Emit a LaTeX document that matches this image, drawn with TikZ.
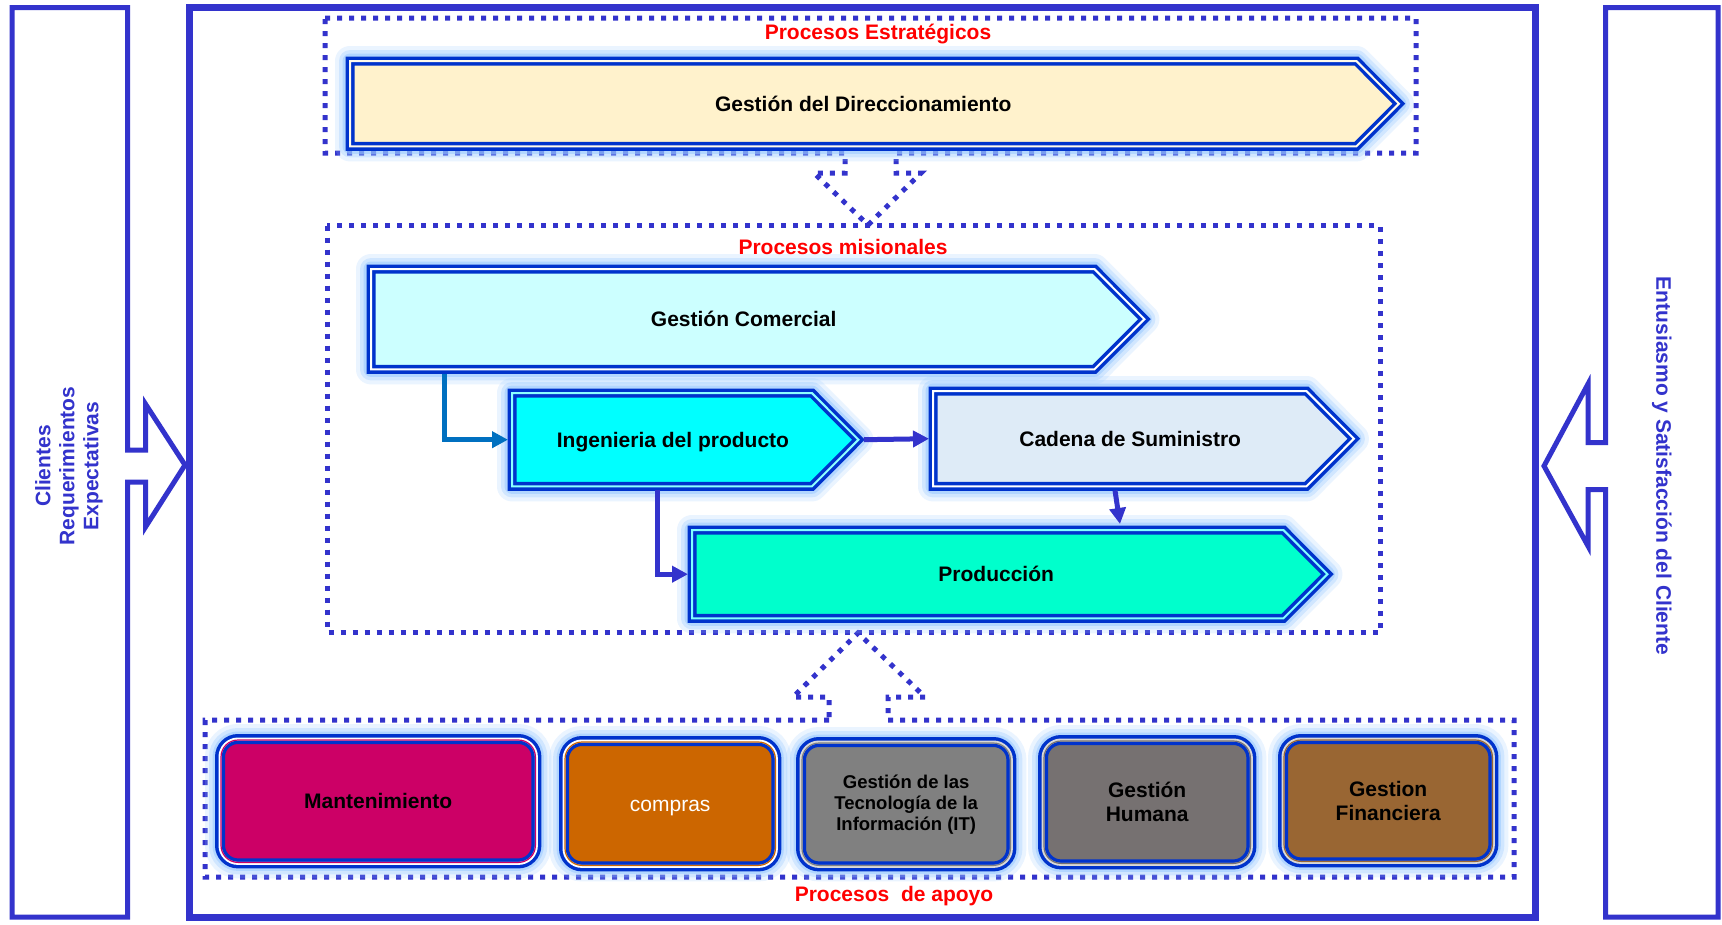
\documentclass[tikz,border=0pt]{standalone}
\usepackage{fontspec}
\setmainfont{Liberation Sans}
\usetikzlibrary{arrows.meta,calc,backgrounds}
\definecolor{frameblue}{RGB}{51,51,204}
\definecolor{shapeblue}{RGB}{0,51,204}
\definecolor{glowblue}{RGB}{150,200,255}
\definecolor{connblue}{RGB}{0,112,192}
\definecolor{cDir}{RGB}{255,242,204}
\definecolor{cCom}{RGB}{204,255,255}
\definecolor{cIng}{RGB}{0,255,255}
\definecolor{cCad}{RGB}{222,235,247}
\definecolor{cProd}{RGB}{0,255,204}
\definecolor{cMant}{RGB}{204,0,102}
\definecolor{cComp}{RGB}{204,102,0}
\definecolor{cTI}{RGB}{128,128,128}
\definecolor{cHum}{RGB}{118,113,113}
\definecolor{cFin}{RGB}{153,102,51}
\definecolor{redlbl}{RGB}{255,0,0}
\tikzset{
  frameline/.style={draw=frameblue, line width=5pt, miter limit=10},
  dotbox/.style={draw=frameblue, line width=5pt, dash pattern=on 5pt off 7pt},
  proctext/.style={font=\fontsize{21}{24}\selectfont\bfseries, text=black, inner sep=0pt, align=center, anchor=north west},
  oneline/.style={text height=15.2pt, text depth=0pt},
  redlabel/.style={font=\fontsize{21}{24}\selectfont\bfseries, text=redlbl, inner sep=0pt},
  sidetext/.style={font=\fontsize{21}{24}\selectfont\bfseries, text=frameblue, inner sep=0pt, align=center},
  conn/.style={draw=frameblue, line width=5pt, -{Triangle[length=16pt,width=16pt]}}
}
\newcommand\homeplate[4]{%
  \foreach \w/\o in {30/0.2,22/0.3,15/0.5}
    \draw[glowblue, opacity=\o, line width=\w pt, line join=round]
      (#1.north west) -- (#1.north east) -- ($(#1.east)+(#2,0)$) -- (#1.south east) -- (#1.south west) -- cycle;
  \filldraw[fill=#3, draw=shapeblue, line width=3.5pt, double=#4, double distance=2pt]
      (#1.north west) -- (#1.north east) -- ($(#1.east)+(#2,0)$) -- (#1.south east) -- (#1.south west) -- cycle;
}
\newcommand\roundbox[3]{%
  \foreach \w/\o in {30/0.2,22/0.3,15/0.5}
    \draw[glowblue, opacity=\o, line width=\w pt, rounded corners=18pt]
      (#1.north west) rectangle (#1.south east);
  \filldraw[fill=#2, draw=shapeblue, line width=3.5pt, double=#3, double distance=3pt, rounded corners=18pt]
      (#1.north west) rectangle (#1.south east);
  \draw[#2, line width=1.2pt, rounded corners=17pt]
      ($(#1.north west)+(1,1)$) rectangle ($(#1.south east)+(-1,-1)$);
}
\begin{document}
\begin{tikzpicture}[x=1pt,y=-1pt]
\useasboundingbox (0,0) rectangle (1722,924);

% ---- process nodes (text + geometry of the rectangular part)
\node[proctext, oneline, minimum width=1006pt, minimum height=85pt] (gdd) at (350,61) {\hspace*{20pt}Gestión del Direccionamiento};
\node[proctext, oneline, minimum width=723pt, minimum height=100pt] (gc) at (371,269) {\hspace*{22pt}Gestión Comercial};
\node[proctext, oneline, minimum width=299.5pt, minimum height=93pt] (ing) at (512,393) {\hspace*{22pt}Ingenieria del producto};
\node[proctext, oneline, minimum width=373pt, minimum height=95pt] (cad) at (933,391) {\hspace*{21pt}Cadena de Suministro};
\node[proctext, oneline, minimum width=591pt, minimum height=88pt] (prod) at (692,530) {\hspace*{17pt}Producción};

% ---- support nodes
\node[proctext, oneline, minimum width=316pt, minimum height=124pt] (mant) at (220,739) {Mantenimiento};
\node[proctext, oneline, minimum width=212pt, minimum height=125pt, font=\fontsize{21}{24}\selectfont, text=white] (comp) at (564,741) {compras};
\node[proctext, minimum width=210pt, minimum height=124pt, font=\fontsize{18.5}{21}\selectfont\bfseries] (ti) at (801,742) {Gestión de las\\Tecnología de la\\Información (IT)};
\node[proctext, minimum width=208pt, minimum height=124pt] (hum) at (1043,740) {Gestión\\Humana};
\node[proctext, minimum width=210pt, minimum height=123pt] (fin) at (1283,739) {Gestion\\Financiera};

\begin{scope}[on background layer]
  \fill[white] (0,0) rectangle (1722,924);
  % frames
  \draw[frameblue, line width=7pt] (189.5,7.5) rectangle (1535.5,917);
  \draw[frameline] (12,7.5) -- (127.5,7.5) -- (127.5,450) -- (145.5,450) -- (145.5,404)
     -- (185,465) -- (145.5,527) -- (145.5,482) -- (127.5,482) -- (127.5,917) -- (12,917) -- cycle;
  \draw[frameline] (1718,7.5) -- (1605.5,7.5) -- (1605.5,442.5) -- (1588,442.5) -- (1588,384)
     -- (1544,466) -- (1588,546) -- (1588,489.5) -- (1605.5,489.5) -- (1605.5,917) -- (1718,917) -- cycle;
  % dotted groups
  \draw[dotbox] (325,18) -- (1416,18) -- (1416,153) -- (896,153) -- (896,173) -- (921,173)
     -- (868,225) -- (814,173) -- (845,173) -- (845,153) -- (325,153) -- cycle;
  \draw[dotbox] (327,225.5) rectangle (1380,632);
  \draw[dotbox] (829,720) -- (205,720) -- (205,877) -- (1514,877) -- (1514,720) -- (888,720)
     -- (888,697) -- (925,697) -- (858,633) -- (793,697) -- (829,697) -- cycle;
  % process shapes
  \homeplate{gdd}{42.5}{cDir}{cDir!40!white}
  \homeplate{gc}{50}{cCom}{white}
  \homeplate{ing}{46.5}{cIng}{cIng!45!white}
  \homeplate{cad}{47.5}{cCad}{white}
  \homeplate{prod}{44}{cProd}{cIng!50!white}
  % support shapes
  \roundbox{mant}{cMant}{white}
  \roundbox{comp}{cComp}{white}
  \roundbox{ti}{cTI}{white!85!black}
  \roundbox{hum}{cHum}{white!85!black}
  \roundbox{fin}{cFin}{white!85!black}
\end{scope}

% ---- connectors
\draw[conn, draw=connblue] ([xshift=73pt,yshift=-5pt]gc.south west) |- ([xshift=-4pt]ing.west);
\draw[conn] ([xshift=52pt]ing.east) -- ([xshift=-4pt]cad.west);
\draw[conn] ([xshift=145pt,yshift=-4pt]ing.south west) |- ([xshift=-4pt]prod.west);
\draw[conn] ([xshift=182pt,yshift=-4pt]cad.south west) -- ([xshift=428pt,yshift=6pt]prod.north west);

% ---- labels
\node[redlabel] (lblE) at (878,34) {Procesos Estratégicos};
\node[redlabel] (lblM) at (843,247) {Procesos misionales};
\node[redlabel] (lblA) at (894,896) {Procesos~ de apoyo};
\node[sidetext, rotate=90] (cli) at (69,466) {Clientes\\Requerimientos\\Expectativas};
\node[sidetext, rotate=-90] (ent) at (1662,466) {Entusiasmo y Satisfacción del Cliente};
\end{tikzpicture}
\end{document}
